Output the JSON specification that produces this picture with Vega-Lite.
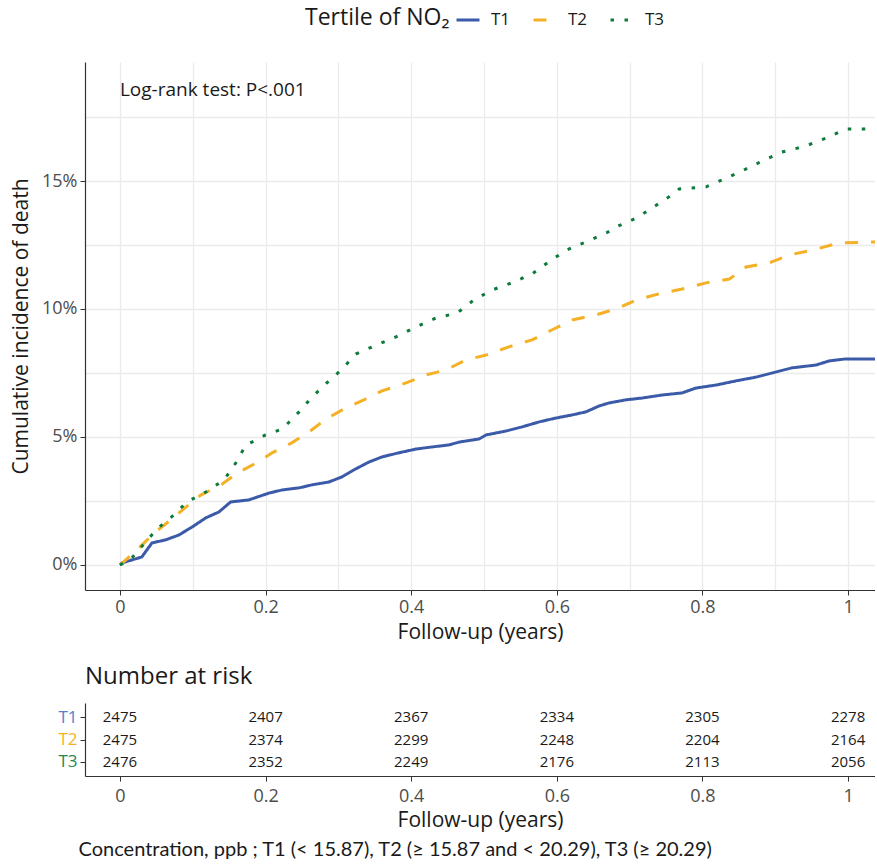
{
  "$schema": "https://vega.github.io/schema/vega-lite/v6.json",
  "padding": {"left": 10, "top": 7, "right": 0, "bottom": 0},
  "background": "white",
  "config": {
    "view": {"stroke": null},
    "font": "Open Sans",
    "axis": {"domainColor": "#333333", "domainWidth": 1.2, "tickColor": "#333333", "tickSize": 5, "labelColor": "#4D4D4D", "labelFontSize": 18, "labelFont": "Open Sans", "titleFont": "Open Sans", "titleFontSize": 21, "titleFontWeight": "normal", "titleColor": "#1a1a1a"}
  },
  "title": {"text": "Concentration, ppb ; T1 (< 15.87), T2 (≥ 15.87 and < 20.29), T3 (≥ 20.29)", "orient": "bottom", "anchor": "start", "frame": "bounds", "font": "Lato", "fontSize": 20, "fontWeight": "normal", "color": "#1a1a1a", "offset": 10, "dx": 68},
  "datasets": {
    "curves": [
      {"group": "T1", "t": 0.0, "v": 0.0},
      {"group": "T1", "t": 0.003, "v": 0.0008},
      {"group": "T1", "t": 0.03, "v": 0.0031},
      {"group": "T1", "t": 0.044, "v": 0.0086},
      {"group": "T1", "t": 0.063, "v": 0.0098},
      {"group": "T1", "t": 0.081, "v": 0.0117},
      {"group": "T1", "t": 0.099, "v": 0.0148},
      {"group": "T1", "t": 0.118, "v": 0.0184},
      {"group": "T1", "t": 0.136, "v": 0.0207},
      {"group": "T1", "t": 0.152, "v": 0.0246},
      {"group": "T1", "t": 0.177, "v": 0.0254},
      {"group": "T1", "t": 0.205, "v": 0.0281},
      {"group": "T1", "t": 0.223, "v": 0.0293},
      {"group": "T1", "t": 0.246, "v": 0.0301},
      {"group": "T1", "t": 0.264, "v": 0.0313},
      {"group": "T1", "t": 0.287, "v": 0.0324},
      {"group": "T1", "t": 0.305, "v": 0.0344},
      {"group": "T1", "t": 0.321, "v": 0.0371},
      {"group": "T1", "t": 0.342, "v": 0.0402},
      {"group": "T1", "t": 0.36, "v": 0.0422},
      {"group": "T1", "t": 0.383, "v": 0.0438},
      {"group": "T1", "t": 0.407, "v": 0.0453},
      {"group": "T1", "t": 0.429, "v": 0.0461},
      {"group": "T1", "t": 0.452, "v": 0.0469},
      {"group": "T1", "t": 0.466, "v": 0.048},
      {"group": "T1", "t": 0.493, "v": 0.0492},
      {"group": "T1", "t": 0.503, "v": 0.0508},
      {"group": "T1", "t": 0.53, "v": 0.0523},
      {"group": "T1", "t": 0.552, "v": 0.0539},
      {"group": "T1", "t": 0.576, "v": 0.0559},
      {"group": "T1", "t": 0.599, "v": 0.0574},
      {"group": "T1", "t": 0.621, "v": 0.0586},
      {"group": "T1", "t": 0.64, "v": 0.0598},
      {"group": "T1", "t": 0.658, "v": 0.0621},
      {"group": "T1", "t": 0.672, "v": 0.0633},
      {"group": "T1", "t": 0.695, "v": 0.0645},
      {"group": "T1", "t": 0.717, "v": 0.0652},
      {"group": "T1", "t": 0.745, "v": 0.0664},
      {"group": "T1", "t": 0.772, "v": 0.0672},
      {"group": "T1", "t": 0.791, "v": 0.0691},
      {"group": "T1", "t": 0.819, "v": 0.0703},
      {"group": "T1", "t": 0.846, "v": 0.0719},
      {"group": "T1", "t": 0.874, "v": 0.0734},
      {"group": "T1", "t": 0.896, "v": 0.075},
      {"group": "T1", "t": 0.923, "v": 0.077},
      {"group": "T1", "t": 0.956, "v": 0.0781},
      {"group": "T1", "t": 0.974, "v": 0.0797},
      {"group": "T1", "t": 0.997, "v": 0.0805},
      {"group": "T1", "t": 1.04, "v": 0.0805},
      {"group": "T2", "t": 0.0, "v": 0.0},
      {"group": "T2", "t": 0.005, "v": 0.0012},
      {"group": "T2", "t": 0.026, "v": 0.0066},
      {"group": "T2", "t": 0.047, "v": 0.0125},
      {"group": "T2", "t": 0.07, "v": 0.0176},
      {"group": "T2", "t": 0.091, "v": 0.0227},
      {"group": "T2", "t": 0.111, "v": 0.0273},
      {"group": "T2", "t": 0.139, "v": 0.0313},
      {"group": "T2", "t": 0.161, "v": 0.0359},
      {"group": "T2", "t": 0.187, "v": 0.0398},
      {"group": "T2", "t": 0.209, "v": 0.0438},
      {"group": "T2", "t": 0.236, "v": 0.0477},
      {"group": "T2", "t": 0.26, "v": 0.052},
      {"group": "T2", "t": 0.283, "v": 0.057},
      {"group": "T2", "t": 0.31, "v": 0.0613},
      {"group": "T2", "t": 0.335, "v": 0.0645},
      {"group": "T2", "t": 0.36, "v": 0.068},
      {"group": "T2", "t": 0.393, "v": 0.0711},
      {"group": "T2", "t": 0.42, "v": 0.0742},
      {"group": "T2", "t": 0.448, "v": 0.0762},
      {"group": "T2", "t": 0.475, "v": 0.0801},
      {"group": "T2", "t": 0.503, "v": 0.082},
      {"group": "T2", "t": 0.534, "v": 0.0852},
      {"group": "T2", "t": 0.566, "v": 0.0879},
      {"group": "T2", "t": 0.593, "v": 0.0918},
      {"group": "T2", "t": 0.621, "v": 0.0957},
      {"group": "T2", "t": 0.654, "v": 0.0977},
      {"group": "T2", "t": 0.681, "v": 0.1},
      {"group": "T2", "t": 0.709, "v": 0.1035},
      {"group": "T2", "t": 0.74, "v": 0.1059},
      {"group": "T2", "t": 0.772, "v": 0.1078},
      {"group": "T2", "t": 0.805, "v": 0.1102},
      {"group": "T2", "t": 0.837, "v": 0.1117},
      {"group": "T2", "t": 0.86, "v": 0.1164},
      {"group": "T2", "t": 0.892, "v": 0.118},
      {"group": "T2", "t": 0.919, "v": 0.1211},
      {"group": "T2", "t": 0.951, "v": 0.123},
      {"group": "T2", "t": 0.988, "v": 0.1258},
      {"group": "T2", "t": 1.04, "v": 0.1262},
      {"group": "T3", "t": 0.0, "v": 0.0},
      {"group": "T3", "t": 0.003, "v": 0.0004},
      {"group": "T3", "t": 0.015, "v": 0.0023},
      {"group": "T3", "t": 0.033, "v": 0.0082},
      {"group": "T3", "t": 0.051, "v": 0.0141},
      {"group": "T3", "t": 0.074, "v": 0.0195},
      {"group": "T3", "t": 0.092, "v": 0.0246},
      {"group": "T3", "t": 0.118, "v": 0.0285},
      {"group": "T3", "t": 0.143, "v": 0.0332},
      {"group": "T3", "t": 0.159, "v": 0.0398},
      {"group": "T3", "t": 0.173, "v": 0.0469},
      {"group": "T3", "t": 0.187, "v": 0.0488},
      {"group": "T3", "t": 0.2, "v": 0.0508},
      {"group": "T3", "t": 0.223, "v": 0.0531},
      {"group": "T3", "t": 0.246, "v": 0.0598},
      {"group": "T3", "t": 0.264, "v": 0.0656},
      {"group": "T3", "t": 0.284, "v": 0.0711},
      {"group": "T3", "t": 0.304, "v": 0.0762},
      {"group": "T3", "t": 0.324, "v": 0.0824},
      {"group": "T3", "t": 0.352, "v": 0.0859},
      {"group": "T3", "t": 0.379, "v": 0.0891},
      {"group": "T3", "t": 0.407, "v": 0.093},
      {"group": "T3", "t": 0.434, "v": 0.0965},
      {"group": "T3", "t": 0.463, "v": 0.0984},
      {"group": "T3", "t": 0.486, "v": 0.1035},
      {"group": "T3", "t": 0.511, "v": 0.1074},
      {"group": "T3", "t": 0.538, "v": 0.1102},
      {"group": "T3", "t": 0.566, "v": 0.1137},
      {"group": "T3", "t": 0.589, "v": 0.1184},
      {"group": "T3", "t": 0.613, "v": 0.123},
      {"group": "T3", "t": 0.64, "v": 0.1262},
      {"group": "T3", "t": 0.668, "v": 0.1297},
      {"group": "T3", "t": 0.681, "v": 0.132},
      {"group": "T3", "t": 0.709, "v": 0.1355},
      {"group": "T3", "t": 0.731, "v": 0.1395},
      {"group": "T3", "t": 0.754, "v": 0.1438},
      {"group": "T3", "t": 0.768, "v": 0.1469},
      {"group": "T3", "t": 0.805, "v": 0.1477},
      {"group": "T3", "t": 0.83, "v": 0.1508},
      {"group": "T3", "t": 0.857, "v": 0.1543},
      {"group": "T3", "t": 0.882, "v": 0.1578},
      {"group": "T3", "t": 0.909, "v": 0.1613},
      {"group": "T3", "t": 0.942, "v": 0.1637},
      {"group": "T3", "t": 0.97, "v": 0.1668},
      {"group": "T3", "t": 0.997, "v": 0.1703},
      {"group": "T3", "t": 1.04, "v": 0.1703}
    ],
    "risk": [
      {"group": "T1", "t": 0, "n": 2475}, {"group": "T1", "t": 0.2, "n": 2407}, {"group": "T1", "t": 0.4, "n": 2367}, {"group": "T1", "t": 0.6, "n": 2334}, {"group": "T1", "t": 0.8, "n": 2305}, {"group": "T1", "t": 1, "n": 2278},
      {"group": "T2", "t": 0, "n": 2475}, {"group": "T2", "t": 0.2, "n": 2374}, {"group": "T2", "t": 0.4, "n": 2299}, {"group": "T2", "t": 0.6, "n": 2248}, {"group": "T2", "t": 0.8, "n": 2204}, {"group": "T2", "t": 1, "n": 2164},
      {"group": "T3", "t": 0, "n": 2476}, {"group": "T3", "t": 0.2, "n": 2352}, {"group": "T3", "t": 0.4, "n": 2249}, {"group": "T3", "t": 0.6, "n": 2176}, {"group": "T3", "t": 0.8, "n": 2113}, {"group": "T3", "t": 1, "n": 2056}
    ],
    "note": [{"label": "Log-rank test: P<.001", "t": 0.0, "v": 0.1855}]
  },
  "vconcat": [
    {
      "width": 790,
      "height": 528,
      "layer": [
        {
          "mark": {"type": "rule", "color": "#333333", "strokeWidth": 1.2},
          "encoding": {"y": {"datum": 0.1965, "type": "quantitative"}}
        },
        {
          "data": {"name": "curves"},
          "mark": {"type": "line", "interpolate": "linear", "strokeWidth": 3, "clip": true},
          "encoding": {
            "x": {"field": "t", "type": "quantitative",
              "scale": {"domain": [-0.048, 1.037], "nice": false, "zero": false},
              "axis": {"values": [0, 0.1, 0.2, 0.3, 0.4, 0.5, 0.6, 0.7, 0.8, 0.9, 1], "labelExpr": "round(datum.value*10)%2==0 ? format(datum.value,'~g') : ''", "tickColor": {"condition": {"test": "round(datum.value*10)%2==0", "value": "#333333"}, "value": "transparent"}, "grid": true, "gridColor": "#EBEBEB", "gridWidth": 1.3, "title": "Follow-up (years)", "labelPadding": 3, "titlePadding": 5}},
            "y": {"field": "v", "type": "quantitative",
              "scale": {"domain": [-0.0098, 0.1965], "nice": false, "zero": false},
              "axis": {"values": [0, 0.025, 0.05, 0.075, 0.1, 0.125, 0.15, 0.175], "labelExpr": "round(datum.value*40)%2==0 ? format(datum.value,'.0%') : ''", "tickColor": {"condition": {"test": "round(datum.value*40)%2==0", "value": "#333333"}, "value": "transparent"}, "grid": true, "gridColor": "#EBEBEB", "gridWidth": 1.3, "title": "Cumulative incidence of death", "labelPadding": 3, "titlePadding": 10}},
            "color": {"field": "group", "type": "nominal",
              "scale": {"domain": ["T1", "T2", "T3"], "range": ["#3B5BA9", "#F5B126", "#0E7A3B"]},
              "legend": {"title": "Tertile of NO₂", "orient": "none", "legendX": 220, "legendY": -55, "direction": "horizontal", "titleOrient": "left", "titleFontSize": 23, "titleFontWeight": "normal", "titleColor": "#1a1a1a", "titleFont": "Open Sans", "titlePadding": 5, "labelFontSize": 17, "labelColor": "#1a1a1a", "labelFont": "Open Sans", "labelOffset": 10, "symbolType": "stroke", "symbolSize": 529, "symbolStrokeWidth": 3, "columnPadding": 16}},
            "strokeDash": {"field": "group", "type": "nominal",
              "scale": {"domain": ["T1", "T2", "T3"], "range": [[1, 0], [13, 13], [3.5, 10.5]]},
              "legend": {"title": "Tertile of NO₂"}}
          }
        },
        {
          "data": {"name": "note"},
          "mark": {"type": "text", "align": "left", "baseline": "middle", "fontSize": 19, "font": "Open Sans", "color": "#1a1a1a"},
          "encoding": {
            "x": {"field": "t", "type": "quantitative"},
            "y": {"field": "v", "type": "quantitative"},
            "text": {"field": "label"}
          }
        }
      ]
    },
    {
      "title": {"text": "Number at risk", "anchor": "start", "frame": "group", "fontSize": 24, "fontWeight": "normal", "font": "Open Sans", "color": "#1a1a1a", "offset": 14},
      "width": 790,
      "height": 73,
      "data": {"name": "risk"},
      "mark": {"type": "text", "fontSize": 15, "font": "Open Sans", "color": "#1a1a1a", "baseline": "middle"},
      "encoding": {
        "x": {"field": "t", "type": "quantitative",
          "scale": {"domain": [-0.048, 1.037], "nice": false, "zero": false},
          "axis": {"values": [0, 0.2, 0.4, 0.6, 0.8, 1], "format": "~g", "grid": false, "title": "Follow-up (years)", "labelPadding": 6, "titlePadding": 4}},
        "y": {"field": "group", "type": "nominal",
          "scale": {"type": "point", "domain": ["T1", "T2", "T3"], "padding": 0.64},
          "axis": {"title": null, "grid": false, "labelFontSize": 17, "labelPadding": 3,
            "labelColor": {"condition": [{"test": "datum.value=='T1'", "value": "#5082D0"}, {"test": "datum.value=='T2'", "value": "#F5B126"}], "value": "#1E8A55"}}},
        "text": {"field": "n", "type": "quantitative"}
      }
    }
  ],
  "spacing": 23
}
